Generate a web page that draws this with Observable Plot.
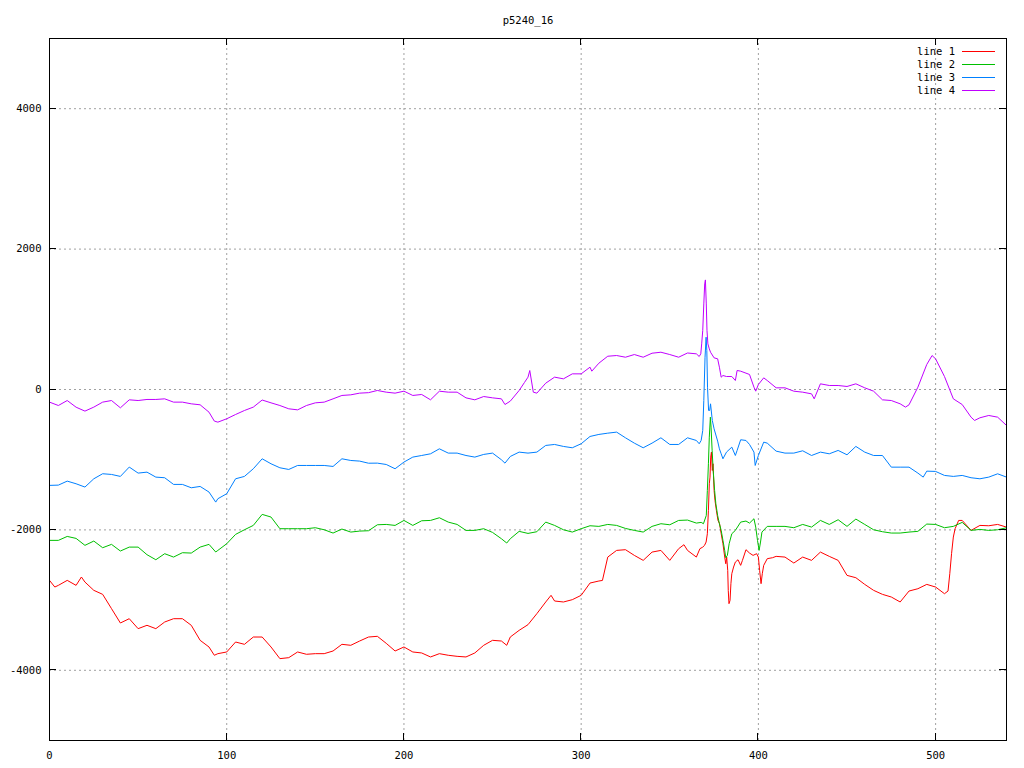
<!DOCTYPE html>
<html><head><meta charset="utf-8">
<script src="https://cdn.jsdelivr.net/npm/d3@7"></script>
<script src="https://cdn.jsdelivr.net/npm/@observablehq/plot@0.6"></script>
<style>body{margin:0;background:#fff} svg{display:block}</style>
</head><body><div id="chart"></div>
<script>
const title = "p5240_16";
const seriesNames = ["line 1", "line 2", "line 3", "line 4"];
const seriesColors = ["#ff0000", "#00c000", "#0080ff", "#c000ff"];
const xTicks = [0, 100, 200, 300, 400, 500];
const yTicks = [-4000, -2000, 0, 2000, 4000];

const line1 = [[0,-2719],[3,-2814],[5,-2790],[10,-2719],[15,-2790],[18,-2671],[20,-2743],[25,-2861],[30,-2918],[35,-3122],[40,-3326],[45,-3265],[50,-3407],[55,-3359],[60,-3407],[65,-3312],[70,-3265],[75,-3265],[80,-3359],[85,-3573],[90,-3668],[93,-3786],[95,-3763],[100,-3739],[105,-3597],[110,-3630],[115,-3526],[120,-3526],[125,-3668],[130,-3834],[135,-3820],[140,-3739],[145,-3772],[150,-3763],[155,-3763],[160,-3725],[165,-3630],[170,-3644],[175,-3583],[180,-3526],[185,-3516],[190,-3616],[195,-3725],[200,-3668],[205,-3739],[210,-3753],[215,-3810],[220,-3763],[225,-3786],[230,-3801],[235,-3810],[240,-3753],[245,-3644],[250,-3573],[255,-3583],[258,-3644],[260,-3526],[265,-3431],[270,-3350],[275,-3193],[280,-3027],[283,-2932],[285,-3013],[290,-3027],[295,-2994],[300,-2932],[305,-2757],[310,-2728],[312,-2720],[315,-2387],[320,-2292],[325,-2282],[330,-2363],[335,-2434],[340,-2316],[345,-2292],[350,-2434],[355,-2268],[358,-2211],[360,-2292],[365,-2387],[367,-2268],[368.6,-2245],[369.6,-2221],[370.5,-2173],[371.2,-2055],[371.8,-1722],[372.3,-1343],[372.7,-1248],[373.1,-963],[373.5,-892],[374,-1153],[374.4,-1058],[375,-1438],[375.5,-1580],[376.3,-1722],[377.2,-1865],[378.1,-1912],[379,-2055],[380,-2197],[381,-2387],[381.6,-2482],[382.1,-2387],[382.7,-2577],[383,-2861],[383.4,-3051],[384,-3004],[384.5,-2766],[385,-2624],[386,-2529],[387,-2458],[388.5,-2425],[390,-2505],[391,-2434],[393,-2282],[395,-2330],[397,-2363],[399,-2339],[400,-2387],[400.7,-2577],[401.5,-2766],[402.2,-2624],[403,-2505],[405,-2410],[408,-2396],[410,-2377],[415,-2387],[420,-2472],[425,-2387],[430,-2434],[435,-2316],[440,-2377],[445,-2434],[450,-2648],[455,-2681],[460,-2776],[465,-2861],[470,-2918],[475,-2956],[480,-3027],[485,-2871],[490,-2838],[495,-2776],[500,-2814],[505,-2909],[507,-2871],[508,-2624],[509,-2339],[510,-2102],[511,-1983],[513,-1865],[515,-1865],[520,-2007],[525,-1936],[530,-1941],[535,-1922],[540,-1960]];

const line2 = [[0,-2149],[5,-2149],[10,-2093],[15,-2121],[20,-2220],[25,-2159],[30,-2254],[35,-2206],[40,-2301],[45,-2245],[50,-2245],[55,-2353],[60,-2425],[65,-2339],[70,-2387],[75,-2325],[80,-2330],[85,-2245],[90,-2206],[93.8,-2315],[95,-2292],[100,-2197],[105,-2064],[110,-1998],[115,-1936],[120,-1779],[125,-1817],[130,-1983],[135,-1983],[140,-1983],[145,-1983],[150,-1969],[155,-1998],[160,-2045],[165,-1988],[170,-2031],[175,-2017],[180,-2012],[185,-1927],[190,-1922],[195,-1936],[200,-1865],[205,-1936],[210,-1870],[215,-1865],[220,-1827],[225,-1889],[230,-1922],[235,-2007],[240,-2007],[245,-1983],[250,-2036],[255,-2126],[258,-2187],[260,-2126],[265,-2021],[270,-2050],[275,-2026],[280,-1889],[285,-1936],[290,-1998],[295,-2031],[300,-1983],[305,-1941],[310,-1950],[315,-1922],[320,-1936],[325,-1979],[330,-2007],[335,-2031],[340,-1950],[345,-1912],[350,-1927],[355,-1865],[360,-1860],[365,-1903],[367.7,-1893],[369,-1912],[370.6,-1794],[371.2,-1438],[371.8,-1058],[372.3,-679],[372.9,-394],[373.3,-536],[373.9,-868],[374.5,-1153],[375.3,-1438],[376,-1628],[377,-1794],[378,-1912],[379,-2007],[380,-2149],[381,-2292],[381.6,-2396],[382.5,-2363],[383.5,-2197],[385,-2055],[387,-2007],[390,-1889],[393,-1874],[395,-1903],[397.5,-1841],[398.5,-1960],[399.5,-2150],[400.4,-2292],[401.2,-2173],[402,-2031],[405,-1950],[410,-1950],[415,-1950],[420,-1969],[425,-1922],[430,-1960],[435,-1865],[440,-1922],[445,-1855],[450,-1950],[455,-1846],[460,-1922],[465,-1998],[470,-2026],[475,-2045],[480,-2045],[485,-2031],[490,-2021],[495,-1917],[500,-1922],[505,-1969],[510,-1950],[515,-1893],[520,-2007],[525,-1993],[530,-2007],[535,-1998],[540,-1969]];

const line3 = [[0,-1366],[5,-1362],[10,-1305],[15,-1343],[20,-1390],[25,-1272],[30,-1200],[35,-1210],[40,-1238],[45,-1105],[50,-1191],[55,-1177],[60,-1248],[65,-1257],[70,-1352],[75,-1352],[80,-1400],[85,-1381],[90,-1461],[93.8,-1604],[95,-1556],[100,-1485],[105,-1272],[110,-1238],[115,-1129],[120,-987],[125,-1058],[130,-1115],[135,-1139],[140,-1082],[145,-1082],[150,-1082],[155,-1082],[160,-1096],[165,-987],[170,-1011],[175,-1020],[180,-1050],[185,-1049],[190,-1068],[195,-1129],[200,-1034],[205,-963],[210,-940],[215,-916],[220,-845],[225,-906],[230,-906],[235,-940],[240,-963],[245,-925],[250,-906],[255,-1001],[257,-1049],[260,-954],[265,-892],[270,-906],[275,-892],[280,-797],[285,-783],[290,-811],[295,-830],[300,-773],[305,-669],[310,-640],[315,-622],[320,-607],[325,-688],[330,-764],[335,-830],[340,-764],[345,-688],[350,-783],[355,-783],[360,-688],[365,-726],[366.6,-773],[367.7,-726],[368.6,-584],[369.2,-157],[369.9,460],[370.5,745],[370.9,555],[371.3,33],[371.9,-299],[372.5,-299],[373,-204],[374,-441],[375,-560],[377,-735],[378,-845],[379,-916],[380,-987],[382,-892],[385,-821],[387,-940],[388,-868],[390,-716],[393,-726],[395,-783],[397.5,-892],[398.2,-1082],[400,-940],[403,-750],[405,-764],[410,-878],[415,-906],[420,-906],[425,-873],[430,-940],[435,-892],[440,-916],[445,-868],[450,-930],[455,-811],[460,-892],[465,-940],[470,-940],[475,-1106],[480,-1106],[485,-1106],[490,-1191],[493,-1248],[495,-1163],[500,-1167],[505,-1224],[510,-1238],[515,-1224],[520,-1257],[525,-1272],[530,-1248],[535,-1201],[540,-1248]];

const line4 = [[0,-180],[5,-228],[10,-157],[15,-252],[20,-308],[25,-251],[30,-180],[35,-157],[40,-261],[45,-147],[50,-157],[55,-142],[60,-142],[65,-133],[70,-180],[75,-180],[80,-204],[85,-218],[90,-323],[93,-450],[95,-465],[100,-417],[105,-356],[110,-299],[115,-251],[120,-150],[125,-190],[130,-228],[135,-275],[140,-290],[145,-228],[150,-190],[155,-180],[160,-133],[165,-85],[170,-76],[175,-52],[180,-45],[185,-14],[190,-38],[195,-52],[200,-24],[205,-85],[210,-71],[215,-147],[220,-24],[225,-38],[230,-38],[235,-119],[240,-147],[245,-100],[250,-119],[255,-133],[257,-214],[260,-166],[265,-14],[268,100],[270,176],[271,270],[273,-38],[275,-52],[280,90],[285,176],[290,152],[295,223],[300,223],[305,318],[306,261],[310,375],[315,474],[320,484],[325,460],[330,498],[335,460],[340,517],[345,531],[350,498],[355,460],[360,520],[365,508],[366.6,470],[367.5,508],[368,650],[368.6,840],[369.2,1219],[369.7,1504],[370.1,1561],[370.6,1219],[371,840],[371.5,650],[372.3,579],[373,531],[375,451],[377,437],[378,318],[379,175],[380,199],[382,185],[385,185],[387,128],[388,271],[390,261],[395,214],[397.5,33],[398.5,-24],[400,71],[403,166],[405,128],[410,24],[415,24],[420,-24],[425,-38],[430,-62],[431.5,-133],[435,81],[440,57],[445,57],[450,43],[455,81],[460,24],[465,-24],[470,-147],[475,-157],[480,-204],[483,-251],[485,-218],[490,33],[495,356],[498,484],[500,436],[505,185],[510,-133],[515,-214],[520,-394],[522,-441],[525,-403],[530,-370],[535,-394],[540,-512]];

const allSeries = [line1, line2, line3, line4];
const rows = [];
allSeries.forEach((s, i) => s.forEach(([x, y]) => rows.push({series: seriesNames[i], x, y})));

const font = "'DejaVu Sans Mono', monospace";
const gridStyle = {stroke: "#a0a0a0", strokeDasharray: "2,3", strokeOpacity: 1, strokeWidth: 1};

const chart = Plot.plot({
  width: 1024, height: 768,
  marginLeft: 49, marginRight: 18, marginTop: 38, marginBottom: 28,
  style: {fontFamily: font, fontSize: "10.5px", background: "#fff", color: "#000", overflow: "visible"},
  x: {domain: [0, 540]},
  y: {domain: [-5000, 5000]},
  color: {domain: seriesNames, range: seriesColors},
  marks: [
    Plot.ruleX(xTicks.filter(d => d > 0), gridStyle),
    Plot.ruleY(yTicks, gridStyle),
    Plot.axisX(xTicks, {tickSize: 0, tickPadding: 11, label: null, tickFormat: d => String(d)}),
    Plot.axisY(yTicks, {tickSize: 0, tickPadding: 8, label: null, tickFormat: d => String(d)}),
    Plot.line(rows, {x: "x", y: "y", z: "series", stroke: "series", strokeWidth: 1, curve: "linear"}),
    Plot.frame({stroke: "#000", strokeWidth: 1}),
    Plot.text([title], {frameAnchor: "top", dy: -15, lineAnchor: "bottom", fill: "#000"})
  ]
});

const svg = d3.select(chart);
const sx = chart.scale("x"), sy = chart.scale("y");
const [x0, x1] = sx.range, [y0, y1] = sy.range;
const tk = 7;
const g = svg.append("g").attr("stroke", "#000").attr("stroke-width", 1).attr("shape-rendering", "crispEdges");
yTicks.forEach(v => {
  const y = sy.apply(v);
  g.append("line").attr("x1", x0).attr("x2", x0 + tk).attr("y1", y).attr("y2", y);
  g.append("line").attr("x1", x1).attr("x2", x1 - tk).attr("y1", y).attr("y2", y);
});
xTicks.forEach(v => {
  const x = sx.apply(v);
  g.append("line").attr("x1", x).attr("x2", x).attr("y1", y0).attr("y2", y0 - tk);
  g.append("line").attr("x1", x).attr("x2", x).attr("y1", y1).attr("y2", y1 + tk);
});

const leg = svg.append("g").attr("font-family", font).attr("font-size", 10.5);
seriesNames.forEach((name, i) => {
  const y = 51.5 + 13 * i;
  leg.append("text").attr("x", 955).attr("y", y).attr("dy", "0.35em").attr("text-anchor", "end").attr("fill", "#000").text(name);
  leg.append("line").attr("x1", 962).attr("x2", 995).attr("y1", y).attr("y2", y).attr("stroke", seriesColors[i]).attr("stroke-width", 1);
});

document.getElementById("chart").appendChild(chart);
</script>
</body></html>
